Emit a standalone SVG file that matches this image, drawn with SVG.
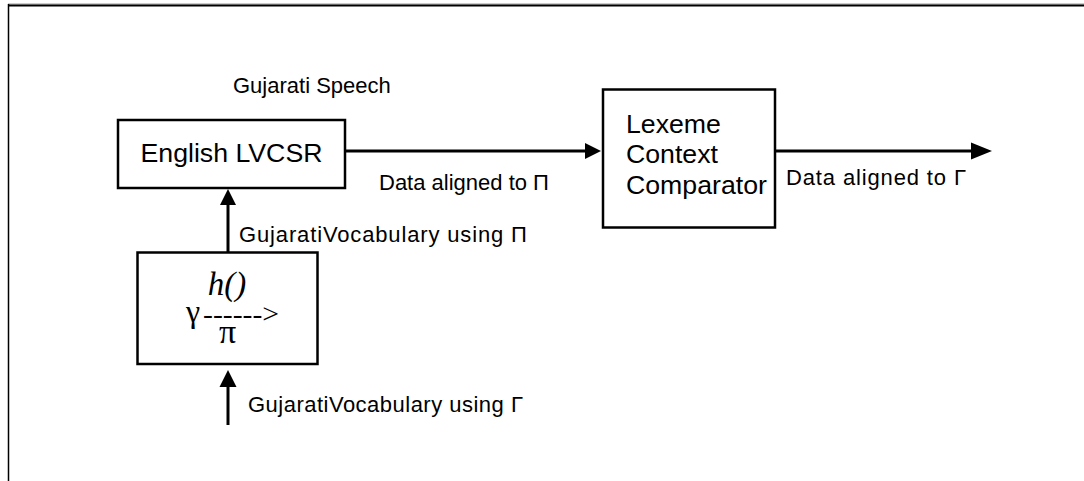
<svg xmlns="http://www.w3.org/2000/svg" width="1084" height="481" viewBox="0 0 1084 481">
<style>
.box{fill:#fff;stroke:#000;stroke-width:2.5}
.ln{stroke:#000;stroke-width:3;fill:none}
.lbl{font-family:"Liberation Sans",Arial,sans-serif;font-size:22px;fill:#000}
.big{font-family:"Liberation Sans",Arial,sans-serif;font-size:26.7px;fill:#000}
.ser{font-family:"Liberation Serif","Times New Roman",serif;fill:#000}
.ah{fill:#000}
</style>
<rect width="1084" height="481" fill="#fff"/>
<g id="frame">
<line x1="8" y1="4" x2="1084" y2="4" stroke="#999" stroke-width="1"/>
<line x1="8" y1="5.5" x2="1084" y2="5.5" stroke="#000" stroke-width="2"/>
<line x1="8.5" y1="4" x2="8.5" y2="481" stroke="#000" stroke-width="1.5"/>
</g>
<g id="connectors">
<line class="ln" x1="345" y1="151" x2="587" y2="151"/>
<polygon class="ah" points="585,143 601,151 585,159"/>
<line class="ln" x1="775" y1="151" x2="973" y2="151"/>
<polygon class="ah" points="971,142.5 992,151 971,159.5"/>
<line class="ln" x1="228" y1="252" x2="228" y2="204"/>
<polygon class="ah" points="220,205 228,189 236,205"/>
<line class="ln" x1="228" y1="425" x2="228" y2="385"/>
<polygon class="ah" points="219.5,387 228,370 236.5,387"/>
</g>
<g id="labels">
<text class="lbl" x="233" y="93">Gujarati Speech</text>
<text class="lbl" x="379" y="190">Data aligned to Π</text>
<text class="lbl" x="786" y="185" textLength="180" lengthAdjust="spacing">Data aligned to Γ</text>
<text class="lbl" x="239" y="242" textLength="288" lengthAdjust="spacing">GujaratiVocabulary using Π</text>
<text class="lbl" x="248" y="412" textLength="275" lengthAdjust="spacing">GujaratiVocabulary using Γ</text>
</g>
<g id="english-lvcsr">
<rect class="box" x="118" y="120" width="227" height="68"/>
<text class="big" x="231.5" y="162" text-anchor="middle">English LVCSR</text>
</g>
<g id="lexeme-comparator">
<rect class="box" x="603" y="89.5" width="172" height="138"/>
<text class="big" x="626" y="132.5">Lexeme</text>
<text class="big" x="626" y="163">Context</text>
<text class="big" x="626" y="193.5">Comparator</text>
</g>
<g id="h-mapping">
<rect class="box" x="137.5" y="252.5" width="180" height="111.5"/>
<text class="ser" x="227" y="295" font-size="33" font-style="italic" text-anchor="middle">h()</text>
<text class="ser" x="186" y="322" font-size="32">γ</text>
<text class="ser" x="203" y="323" font-size="28" textLength="76" lengthAdjust="spacingAndGlyphs">------&gt;</text>
<text class="ser" x="227.5" y="343" font-size="34" text-anchor="middle">π</text>
</g>
</svg>
